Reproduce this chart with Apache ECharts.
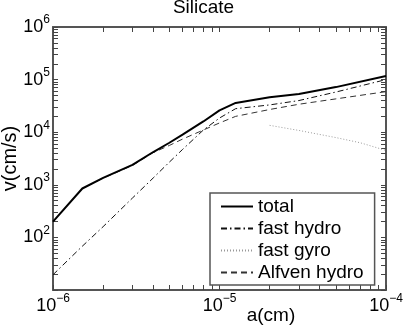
<!DOCTYPE html>
<html>
<head>
<meta charset="utf-8">
<script src="https://cdn.jsdelivr.net/npm/echarts@6/dist/echarts.min.js"></script>
<style>
html, body { margin: 0; padding: 0; background: #fff; }
#chart { width: 407px; height: 326px; }
</style>
</head>
<body>
<div id="chart"></div>
<script>
// grain radius a(cm) and velocities v(cm/s)
var radius = [1e-6, 1.5e-6, 2e-6, 3e-6, 4e-6, 5e-6, 6e-6, 8e-6, 1e-5, 1.25e-5, 2e-5, 3e-5, 5e-5, 1e-4];
var total = [200, 850, 1350, 2400, 4200, 6300, 9000, 16000, 26000, 36000, 46000, 53000, 72000, 117000];
var fastHydro = [19.5, 68, 160, 560, 1350, 2700, 4700, 11000, 18600, 28000, 33000, 40000, 58000, 100000];
var alfvenHydro = [200, 845, 1340, 2330, 4100, 5600, 7400, 11000, 15000, 20000, 27000, 34000, 43000, 59000];
var gyroRadius = [2e-5, 3e-5, 5e-5, 7e-5, 1e-4];
var fastGyro = [13500, 10800, 7900, 6300, 4500];

var xLabels = [1e-6, 1e-5, 1e-4];
var yLabels = [1e2, 1e3, 1e4, 1e5, 1e6];
// tick marks at 1..9 x each decade
var xTicks = [];
for (var e = -6; e < -4; e++) {
  for (var k = 1; k <= 9; k++) xTicks.push(k * Math.pow(10, e));
}
xTicks.push(1e-4);
var yTicks = [];
for (var d = 1; d < 6; d++) {
  for (var j = 1; j <= 9; j++) yTicks.push(j * Math.pow(10, d));
}
yTicks.push(1e6);

var FONT = 'Liberation Sans';

function pairs(xs, ys) {
  return xs.map(function (x, i) { return [x, ys[i]]; });
}

function powLabel(v) {
  var p = Math.round(Math.log10(v));
  return '{b|10}{s|' + String(p).replace('-', '\u2212') + '}';
}

var labelRich = {
  b: { fontSize: 18, lineHeight: 26, fontFamily: FONT, color: '#000' },
  s: { fontSize: 12, lineHeight: 12, verticalAlign: 'top', fontFamily: FONT, color: '#000' }
};

function frameAxis(min, max, ticks, labels) {
  return {
    type: 'log',
    min: min,
    max: max,
    axisLine: { show: true, lineStyle: { color: '#555555', width: 2 } },
    axisTick: { show: true, inside: true, length: 5, customValues: ticks,
      lineStyle: { color: '#444444', width: 1 } },
    axisLabel: labels ? { show: true, customValues: labels, margin: 3,
      formatter: powLabel, rich: labelRich } : { show: false },
    splitLine: { show: false }
  };
}

var xBottom = frameAxis(1e-6, 1e-4, xTicks, xLabels);
xBottom.name = 'a(cm)';
xBottom.nameLocation = 'middle';
xBottom.nameGap = 16;
xBottom.nameMoveOverlap = false;
xBottom.nameTextStyle = { fontSize: 19, fontFamily: FONT, color: '#000', padding: [0, 0, 0, 103] };

var xTop = frameAxis(1e-6, 1e-4, xTicks, null);
xTop.position = 'top';

var yLeft = frameAxis(10, 1e6, yTicks, yLabels);
yLeft.name = 'v(cm/s)';
yLeft.nameLocation = 'middle';
yLeft.nameGap = 33;
yLeft.nameMoveOverlap = false;
yLeft.nameTextStyle = { fontSize: 20, fontFamily: FONT, color: '#000' };

var yRight = frameAxis(10, 1e6, yTicks, null);
yRight.position = 'right';

var option = {
  animation: false,
  title: {
    text: 'Silicate',
    left: 'center',
    top: -7,
    textStyle: { fontSize: 19, fontWeight: 'normal', fontFamily: FONT, color: '#000' }
  },
  grid: { left: 53, right: 21, top: 27, bottom: 36, outerBoundsMode: 'none' },
  xAxis: [xBottom, xTop],
  yAxis: [yLeft, yRight],
  legend: {
    orient: 'vertical',
    left: 210,
    top: 193,
    padding: [4, 11, 3, 10],
    itemWidth: 32,
    itemHeight: 14,
    itemGap: 3,
    itemTextGap: 16,
    borderColor: '#555',
    borderWidth: 1.5,
    backgroundColor: '#fff',
    itemStyle: { opacity: 0 },
    textStyle: { fontSize: 19, fontFamily: FONT, color: '#000' },
    data: ['total', 'fast hydro', 'fast gyro', 'Alfven hydro']
  },
  series: [
    {
      name: 'total', type: 'line', symbol: 'none', z: 5, color: '#000',
      lineStyle: { color: '#000', width: 2 },
      data: pairs(radius, total)
    },
    {
      name: 'fast hydro', type: 'line', symbol: 'none', color: '#111',
      lineStyle: { color: '#111', width: 1, type: [6, 3, 1.5, 3] },
      data: pairs(radius, fastHydro)
    },
    {
      name: 'fast gyro', type: 'line', symbol: 'none', color: '#999',
      lineStyle: { color: '#999', width: 1, type: [1, 2] },
      data: pairs(gyroRadius, fastGyro)
    },
    {
      name: 'Alfven hydro', type: 'line', symbol: 'none', color: '#333',
      lineStyle: { color: '#333', width: 1, type: [6, 4] },
      data: pairs(radius, alfvenHydro)
    }
  ]
};

echarts.init(document.getElementById('chart')).setOption(option);
</script>
</body>
</html>
